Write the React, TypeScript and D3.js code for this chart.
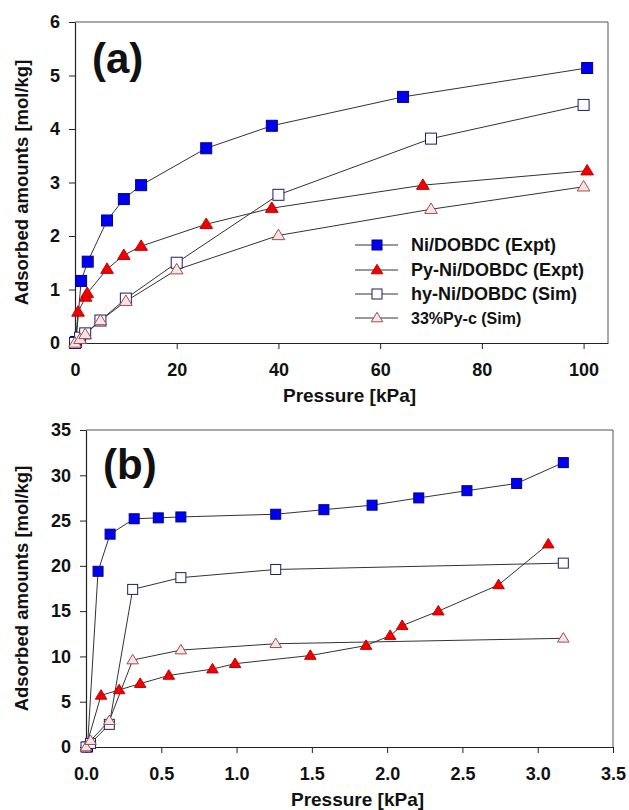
import { useRef, useEffect } from 'react';
import * as d3 from 'd3';

// panel (a): 0-100 kPa
const aNiX = [0.2, 1.2, 2.5, 6.3, 9.6, 13, 25.8, 38.7, 64.5, 100.7];
const aNiY = [0.02, 1.16, 1.52, 2.29, 2.69, 2.95, 3.64, 4.06, 4.6, 5.14];
const aPyX = [0.1, 0.6, 2.1, 2.4, 6.3, 9.6, 13, 25.8, 38.7, 68.4, 100.7];
const aPyY = [0.02, 0.58, 0.86, 0.93, 1.38, 1.64, 1.81, 2.22, 2.52, 2.95, 3.22];
const aHyX = [0, 1, 2, 5, 10, 20, 40, 70, 100];
const aHyY = [0, 0.1, 0.18, 0.42, 0.83, 1.5, 2.77, 3.82, 4.45];
const aPcX = [0, 1, 2, 5, 10, 20, 40, 70, 100];
const aPcY = [0, 0.07, 0.16, 0.42, 0.78, 1.37, 2.01, 2.5, 2.92];

// panel (b): 0-3.5 kPa
const bNiX = [0.01, 0.08, 0.16, 0.32, 0.48, 0.63, 1.26, 1.58, 1.9, 2.21, 2.53, 2.86, 3.17];
const bNiY = [0, 19.4, 23.5, 25.2, 25.3, 25.4, 25.7, 26.2, 26.7, 27.5, 28.3, 29.1, 31.4];
const bPyX = [0, 0.1, 0.22, 0.36, 0.55, 0.84, 0.99, 1.49, 1.86, 2.02, 2.1, 2.34, 2.74, 3.07];
const bPyY = [0, 5.7, 6.3, 7.0, 7.9, 8.6, 9.2, 10.1, 11.2, 12.3, 13.4, 15.0, 17.9, 22.4];
const bHyX = [0, 0.03, 0.155, 0.31, 0.63, 1.26, 3.17];
const bHyY = [0, 0.4, 2.5, 17.4, 18.7, 19.6, 20.3];
const bPcX = [0, 0.03, 0.155, 0.31, 0.63, 1.26, 3.17];
const bPcY = [0, 0.7, 2.9, 9.6, 10.7, 11.4, 12.0];

const legendNames = ['Ni/DOBDC (Expt)', 'Py-Ni/DOBDC (Expt)', 'hy-Ni/DOBDC (Sim)', '33%Py-c (Sim)'];
const aXTicks = [0, 20, 40, 60, 80, 100];
const aYTicks = [0, 1, 2, 3, 4, 5, 6];
const bXTicks = [0, 0.5, 1.0, 1.5, 2.0, 2.5, 3.0, 3.5];
const bYTicks = [0, 5, 10, 15, 20, 25, 30, 35];

const styles = [
  { shape: 'square', fill: '#0000f0', stroke: '#00008a' },
  { shape: 'triangle', fill: '#f00000', stroke: '#c00000' },
  { shape: 'square', fill: '#ffffff', stroke: '#1c1c6a' },
  { shape: 'triangle', fill: '#fde4e4', stroke: '#9c4e4e' },
];

const FONT = 'Liberation Sans, Arial, sans-serif';

function drawMarker(g, style, x, y, size) {
  if (style.shape === 'square') {
    g.append('rect')
      .attr('x', x - size / 2).attr('y', y - size / 2)
      .attr('width', size).attr('height', size)
      .attr('fill', style.fill).attr('stroke', style.stroke).attr('stroke-width', 1);
  } else {
    const w = size * 1.15;
    const h = size * 0.95;
    g.append('path')
      .attr('d', `M${x},${y - h * 0.6}L${x + w / 2},${y + h * 0.4}L${x - w / 2},${y + h * 0.4}Z`)
      .attr('fill', style.fill).attr('stroke', style.stroke).attr('stroke-width', 1);
  }
}

function drawPanel(svg, opts) {
  const { left, right, top, bottom, xDomain, yDomain, xTicks, yTicks, xFmt, series, label, labelPos, mSize, xLabelY, yLabelX } = opts;
  const x = d3.scaleLinear().domain(xDomain).range([left, right]);
  const y = d3.scaleLinear().domain(yDomain).range([bottom, top]);
  const g = svg.append('g');

  // frame
  g.append('line').attr('x1', left).attr('x2', right).attr('y1', top).attr('y2', top).attr('stroke', '#555');
  g.append('line').attr('x1', right).attr('x2', right).attr('y1', top).attr('y2', bottom).attr('stroke', '#555');

  const xAxis = g.append('g')
    .attr('transform', `translate(0,${bottom})`)
    .call(d3.axisBottom(x).tickValues(xTicks).tickSizeInner(6).tickSizeOuter(0).tickPadding(14).tickFormat(xFmt));
  const yAxis = g.append('g')
    .attr('transform', `translate(${left},0)`)
    .call(d3.axisLeft(y).tickValues(yTicks).tickSizeInner(6).tickSizeOuter(0).tickPadding(9).tickFormat(d3.format('d')));
  [xAxis, yAxis].forEach(ax => {
    ax.select('.domain').attr('stroke', '#222').attr('stroke-width', 1.2);
    ax.selectAll('.tick line').attr('stroke', '#222');
    ax.selectAll('text')
      .attr('font-family', FONT).attr('font-weight', 'bold').attr('font-size', 18).attr('fill', '#111');
  });

  const line = d3.line().x(d => x(d[0])).y(d => y(d[1]));
  series.forEach(s => {
    const pts = s.xs.map((v, j) => [v, s.ys[j]]);
    g.append('path').attr('d', line(pts)).attr('fill', 'none').attr('stroke', '#333').attr('stroke-width', 1);
  });
  series.forEach((s, i) => {
    s.xs.forEach((v, j) => drawMarker(g, styles[i], x(v), y(s.ys[j]), mSize));
  });

  g.append('text')
    .attr('x', labelPos[0]).attr('y', labelPos[1])
    .attr('font-family', FONT).attr('font-weight', 'bold').attr('font-size', 42).attr('fill', '#111')
    .text(label);

  g.append('text')
    .attr('x', (left + right) / 2 + 8).attr('y', xLabelY)
    .attr('text-anchor', 'middle')
    .attr('font-family', FONT).attr('font-weight', 'bold').attr('font-size', 19).attr('fill', '#111')
    .text('Pressure [kPa]');

  g.append('text')
    .attr('transform', `translate(${yLabelX},${(top + bottom) / 2}) rotate(-90)`)
    .attr('text-anchor', 'middle')
    .attr('font-family', FONT).attr('font-weight', 'bold').attr('font-size', 18.5).attr('fill', '#111')
    .text('Adsorbed amounts [mol/kg]');

  return g;
}

function App() {
  const ref = useRef(null);

  useEffect(() => {
    d3.select(ref.current).selectAll('*').remove();
    const svg = d3.select(ref.current);
    svg.append('rect').attr('width', 629).attr('height', 810).attr('fill', '#fff');

    const ga = drawPanel(svg, {
      left: 75, right: 608, top: 22, bottom: 343,
      xDomain: [0, 104.8], yDomain: [0, 6],
      xTicks: aXTicks, yTicks: aYTicks, xFmt: d3.format('d'),
      series: [
        { xs: aNiX, ys: aNiY }, { xs: aPyX, ys: aPyY },
        { xs: aHyX, ys: aHyY }, { xs: aPcX, ys: aPcY },
      ],
      label: '(a)', labelPos: [92, 73], mSize: 11, xLabelY: 402, yLabelX: 28,
    });

    // legend
    const rows = [245, 270, 294, 318];
    legendNames.forEach((name, i) => {
      ga.append('line').attr('x1', 355).attr('x2', 398).attr('y1', rows[i]).attr('y2', rows[i])
        .attr('stroke', '#333').attr('stroke-width', 1);
      drawMarker(ga, styles[i], 377, rows[i], 10);
      ga.append('text')
        .attr('x', 411).attr('y', rows[i]).attr('dy', '0.35em')
        .attr('font-family', FONT).attr('font-weight', 'bold')
        .attr('font-size', i === 3 ? 16 : 18).attr('fill', '#111')
        .text(name);
    });

    drawPanel(svg, {
      left: 86, right: 613, top: 430, bottom: 747,
      xDomain: [0, 3.5], yDomain: [0, 35],
      xTicks: bXTicks, yTicks: bYTicks, xFmt: d3.format('.1f'),
      series: [
        { xs: bNiX, ys: bNiY }, { xs: bPyX, ys: bPyY },
        { xs: bHyX, ys: bHyY }, { xs: bPcX, ys: bPcY },
      ],
      label: '(b)', labelPos: [103, 479], mSize: 10, xLabelY: 806, yLabelX: 28,
    });
  }, []);

  return <svg ref={ref} width={629} height={810} style={{ position: 'absolute', left: 0, top: 0 }} />;
}

export default App;
